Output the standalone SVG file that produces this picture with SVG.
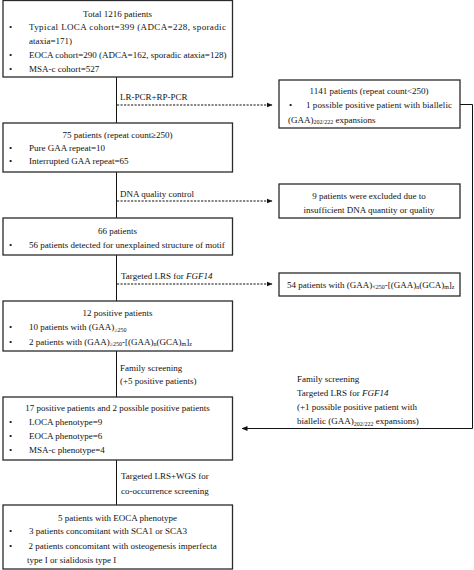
<svg xmlns="http://www.w3.org/2000/svg" width="474" height="570" viewBox="0 0 474 570">
<style>
text{font-family:"Liberation Serif","Times New Roman",serif;font-size:9px;fill:#111}
.c{text-anchor:middle}
.box{fill:#fff;stroke:#2a2a2a;stroke-width:1.3}
.ln{fill:none;stroke:#111;stroke-width:1}
.dash{fill:none;stroke:#111;stroke-width:1;stroke-dasharray:2.2,1.3}
.s{font-size:6px}
.i{font-style:italic}
</style>
<defs>
<marker id="ah" markerWidth="6" markerHeight="6" refX="5.5" refY="3" orient="auto" markerUnits="userSpaceOnUse">
<path d="M0,0.5 L6,3 L0,5.5 Z" fill="#111"/>
</marker>
</defs>
<rect width="474" height="570" fill="#fff"/>
<g id="connectors">
<path class="ln" d="M116.5,77 V123"/>
<path class="ln" d="M116.5,172 V218"/>
<path class="ln" d="M116.5,255 V301"/>
<path class="ln" d="M116.5,351 V397"/>
<path class="ln" d="M116.5,460 V505"/>
<path class="dash" d="M117,105 H272" marker-end="url(#ah)"/>
<path class="dash" d="M117,201 H272" marker-end="url(#ah)"/>
<path class="dash" d="M117,284 H272" marker-end="url(#ah)"/>
<path class="ln" d="M460,104.5 H472.5 V428.5 H242" marker-end="url(#ah)"/>
<text x="120" y="99.5">LR-PCR+RP-PCR</text>
<text x="120" y="196.5">DNA quality control</text>
<text x="121" y="278.5">Targeted LRS for <tspan class="i">FGF14</tspan></text>
<text x="120" y="370.5">Family screening</text>
<text x="120" y="384">(+5 positive patients)</text>
<text x="121" y="479">Targeted LRS+WGS for</text>
<text x="121" y="493.5">co-occurrence screening</text>
<text x="297" y="381.5">Family screening</text>
<text x="297" y="395.5">Targeted LRS for <tspan class="i">FGF14</tspan></text>
<text x="297" y="410">(+1 possible positive patient with</text>
<text x="297" y="424">biallelic (GAA)<tspan class="s" dy="1.5">202/222</tspan><tspan dy="-1.5"> expansions)</tspan></text>
</g>
<g id="n1">
<rect class="box" x="3" y="0.5" width="229.5" height="76.5"/>
<text class="c" x="117.5" y="17">Total 1216 patients</text>
<text x="9" y="30">•</text>
<text x="29" y="30" textLength="197" lengthAdjust="spacing">Typical LOCA cohort=399 (ADCA=228, sporadic</text>
<text x="29" y="43.5">ataxia=171)</text>
<text x="9" y="58">•</text>
<text x="29" y="58">EOCA cohort=290 (ADCA=162, sporadic ataxia=128)</text>
<text x="9" y="72">•</text>
<text x="29" y="72">MSA-c cohort=527</text>
</g>
<g id="n2">
<rect class="box" x="279" y="80" width="181" height="48"/>
<text class="c" x="369" y="93.5">1141 patients (repeat count&lt;250)</text>
<text x="289" y="108">•</text>
<text x="306" y="108" textLength="146" lengthAdjust="spacing">1 possible positive patient with biallelic</text>
<text x="288" y="122.5">(GAA)<tspan class="s" dy="1.5">202/222</tspan><tspan dy="-1.5"> expansions</tspan></text>
</g>
<g id="n3">
<rect class="box" x="3" y="123" width="229.5" height="49"/>
<text class="c" x="117.5" y="137.5">75 patients (repeat count≥250)</text>
<text x="9" y="151">•</text>
<text x="29" y="151">Pure GAA repeat=10</text>
<text x="9" y="164">•</text>
<text x="29" y="164">Interrupted GAA repeat=65</text>
</g>
<g id="n4">
<rect class="box" x="279" y="184" width="181" height="34"/>
<text class="c" x="369" y="198.5">9 patients were excluded due to</text>
<text class="c" x="369" y="212.5">insufficient DNA quantity or quality</text>
</g>
<g id="n5">
<rect class="box" x="3" y="218" width="229.5" height="37"/>
<text class="c" x="117.5" y="233.5">66 patients</text>
<text x="9" y="247.5">•</text>
<text x="29" y="247.5">56 patients detected for unexplained structure of motif</text>
</g>
<g id="n6">
<rect class="box" x="279" y="273" width="181" height="23"/>
<text x="287" y="287.5">54 patients with (GAA)<tspan class="s" dy="1.5">&lt;250</tspan><tspan dy="-1.5">-[(GAA)</tspan><tspan class="s" dy="1.5">n</tspan><tspan dy="-1.5">(GCA)</tspan><tspan class="s" dy="1.5">m</tspan><tspan dy="-1.5">]</tspan><tspan class="s" dy="1.5">z</tspan></text>
</g>
<g id="n7">
<rect class="box" x="3" y="301" width="229.5" height="50"/>
<text class="c" x="117.5" y="315.5">12 positive patients</text>
<text x="9" y="330">•</text>
<text x="29" y="330">10 patients with (GAA)<tspan class="s" dy="1.5">≥250</tspan></text>
<text x="9" y="344.5">•</text>
<text x="29" y="344.5">2 patients with (GAA)<tspan class="s" dy="1.5">≥250</tspan><tspan dy="-1.5">-[(GAA)</tspan><tspan class="s" dy="1.5">n</tspan><tspan dy="-1.5">(GCA)</tspan><tspan class="s" dy="1.5">m</tspan><tspan dy="-1.5">]</tspan><tspan class="s" dy="1.5">z</tspan></text>
</g>
<g id="n8">
<rect class="box" x="3" y="397" width="229.5" height="63"/>
<text class="c" x="117.5" y="411">17 positive patients and 2 possible positive patients</text>
<text x="9" y="424.5">•</text>
<text x="29" y="424.5">LOCA phenotype=9</text>
<text x="9" y="439">•</text>
<text x="29" y="439">EOCA phenotype=6</text>
<text x="9" y="452.5">•</text>
<text x="29" y="452.5">MSA-c phenotype=4</text>
</g>
<g id="n9">
<rect class="box" x="3" y="505" width="229.5" height="64"/>
<text class="c" x="117.5" y="520.5">5 patients with EOCA phenotype</text>
<text x="9" y="534">•</text>
<text x="29" y="534">3 patients concomitant with SCA1 or SCA3</text>
<text x="9" y="548.5">•</text>
<text x="28.5" y="548.5">2 patients concomitant with osteogenesis imperfecta</text>
<text x="27" y="562.5">type I or sialidosis type I</text>
</g>
</svg>
